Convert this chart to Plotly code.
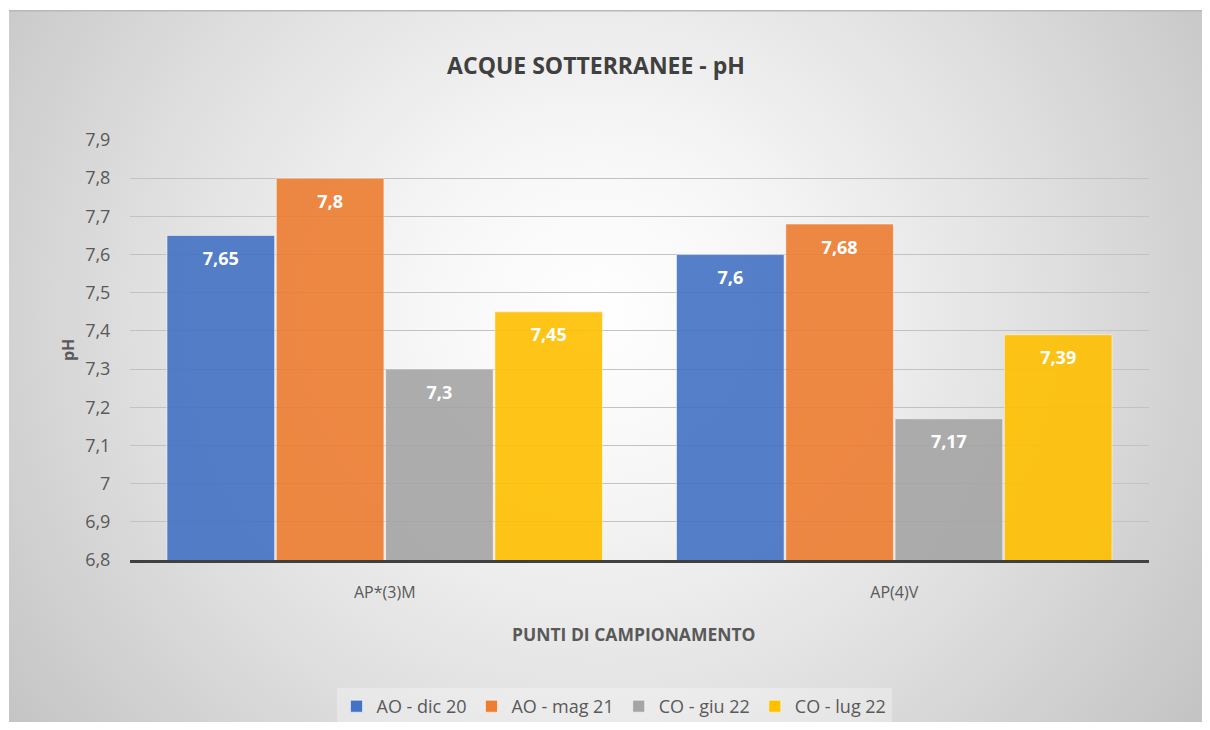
import base64
import plotly.graph_objects as go

# ---- data ----
categories = ["AP*(3)M", "AP(4)V"]
series_names = ["AO - dic 20", "AO - mag 21", "CO - giu 22", "CO - lug 22"]
ao_dic20 = [7.65, 7.60]
ao_mag21 = [7.80, 7.68]
co_giu22 = [7.30, 7.17]
co_lug22 = [7.45, 7.39]
series_values = [ao_dic20, ao_mag21, co_giu22, co_lug22]
y_ticks = [6.8, 6.9, 7.0, 7.1, 7.2, 7.3, 7.4, 7.5, 7.6, 7.7, 7.8, 7.9]
y_tick_labels = ["6,8", "6,9", "7", "7,1", "7,2", "7,3", "7,4", "7,5", "7,6", "7,7", "7,8", "7,9"]

colors = ["#4472C4", "#ED7D31", "#A5A5A5", "#FFC000"]

# page is rendered with an 8px body margin; lay out in page coordinates
OFF = 8
PAGE_W, PAGE_H = 1210, 730
W, H = PAGE_W - OFF, PAGE_H - 2 * OFF
PL, PR, PT, PB = 130, 1149, 140, 560          # plot area in page coords
ML, MT = PL - OFF, PT - OFF
MR, MB = W - (PR - OFF), H - (PB - OFF)
PW, PH = PR - PL, PB - PT

def xp(px):  # page x -> paper x
    return (px - PL) / PW

def yp(py):  # page y -> paper y
    return (PB - py) / PH

def fmt(v):
    s = ("%.2f" % v).rstrip("0").rstrip(".")
    return s.replace(".", ",")

fig = go.Figure()
for i, (name, vals) in enumerate(zip(series_names, series_values)):
    fig.add_trace(go.Bar(
        name=name, x=categories, y=vals,
        offsetgroup=str(i),
        marker=dict(color=colors[i], opacity=0.9,
                    line=dict(color="rgba(255,255,255,0.55)", width=1)),
        hovertemplate="%{x}<br>" + name + ": %{y}<extra></extra>",
    ))
for i, (name, vals) in enumerate(zip(series_names, series_values)):
    fig.add_trace(go.Scatter(
        x=categories, y=vals, mode="markers+text",
        offsetgroup=str(i),
        text=[fmt(v) for v in vals], textposition="bottom center",
        textfont=dict(family="Open Sans", size=18, color="white", weight="bold"),
        marker=dict(size=24, opacity=0),
        showlegend=False, hoverinfo="skip", cliponaxis=False,
    ))

# background gradient frame (chart area) as svg image
FX, FY = 9, 10
FW, FH = PAGE_W - FX, PAGE_H - FY
svg = f'''<svg xmlns="http://www.w3.org/2000/svg" width="{FW}" height="{FH}" viewBox="0 0 {FW} {FH}" preserveAspectRatio="none">
<defs><radialGradient id="g" gradientUnits="userSpaceOnUse" cx="{FW*0.49}" cy="{FH*0.42}" r="{FW*0.62}"
 gradientTransform="translate({FW*0.49},{FH*0.42}) scale(1,0.95) translate({-FW*0.49},{-FH*0.42})">
<stop offset="0" stop-color="#ffffff"/><stop offset="0.25" stop-color="#f6f6f6"/>
<stop offset="0.6" stop-color="#e0e0e0"/><stop offset="1" stop-color="#c3c3c3"/></radialGradient></defs>
<rect x="0" y="0" width="{FW}" height="{FH}" fill="url(#g)"/>
<line x1="0" y1="0.75" x2="{FW}" y2="0.75" stroke="#b8b8b8" stroke-width="1.5"/>
</svg>'''
src = "data:image/svg+xml;base64," + base64.b64encode(svg.encode()).decode()

fig.add_layout_image(dict(
    source=src, xref="paper", yref="paper",
    x=xp(FX), y=yp(FY), sizex=FW / PW, sizey=FH / PH,
    xanchor="left", yanchor="top", sizing="stretch", layer="below",
))

fig.update_layout(
    width=W, height=H,
    margin=dict(l=ML, r=MR, t=MT, b=MB, autoexpand=False),
    paper_bgcolor="white", plot_bgcolor="rgba(0,0,0,0)",
    barmode="group", bargap=0.142, bargroupgap=0.015,
    scattermode="group", scattergap=0.142,
    separators=",.",
    font=dict(family="Open Sans", color="#595959"),
    title=dict(text="<b>ACQUE SOTTERRANEE - pH</b>", xref="container", yref="container",
               x=(596 - OFF) / W, y=1 - (66 - OFF) / H, xanchor="center", yanchor="middle",
               font=dict(family="Open Sans", size=23, color="#404040")),
    xaxis=dict(showgrid=False, showline=True, linecolor="#404040", linewidth=3,
               ticks="outside", ticklen=16, tickcolor="rgba(0,0,0,0)",
               tickfont=dict(size=16, color="#595959")),
    yaxis=dict(range=[6.8, 7.9], tickvals=y_ticks, ticktext=y_tick_labels,
               showgrid=True, gridcolor="#c2c2c2", gridwidth=1.3,
               zeroline=False, showline=False,
               ticks="outside", ticklen=15, tickcolor="rgba(0,0,0,0)",
               tickfont=dict(size=18, color="#595959")),
    legend=dict(orientation="h", xref="paper", yref="paper",
                x=xp(614), y=yp(688), xanchor="center", yanchor="top",
                bgcolor="rgba(255,255,255,0.3)", font=dict(size=18, color="#595959"),
                itemclick=False),
    annotations=[
        dict(text="<b>PUNTI DI CAMPIONAMENTO</b>", xref="paper", yref="paper",
             x=xp(634), y=yp(634), xanchor="center", yanchor="middle",
             showarrow=False, font=dict(family="Open Sans", size=17.5, color="#595959")),
        dict(text="<b>pH</b>", xref="paper", yref="paper", textangle=-90,
             x=xp(68), y=yp(350), xanchor="center", yanchor="middle",
             showarrow=False, font=dict(family="Open Sans", size=16, color="#595959")),
    ],
)

fig.write_html("out.html")
